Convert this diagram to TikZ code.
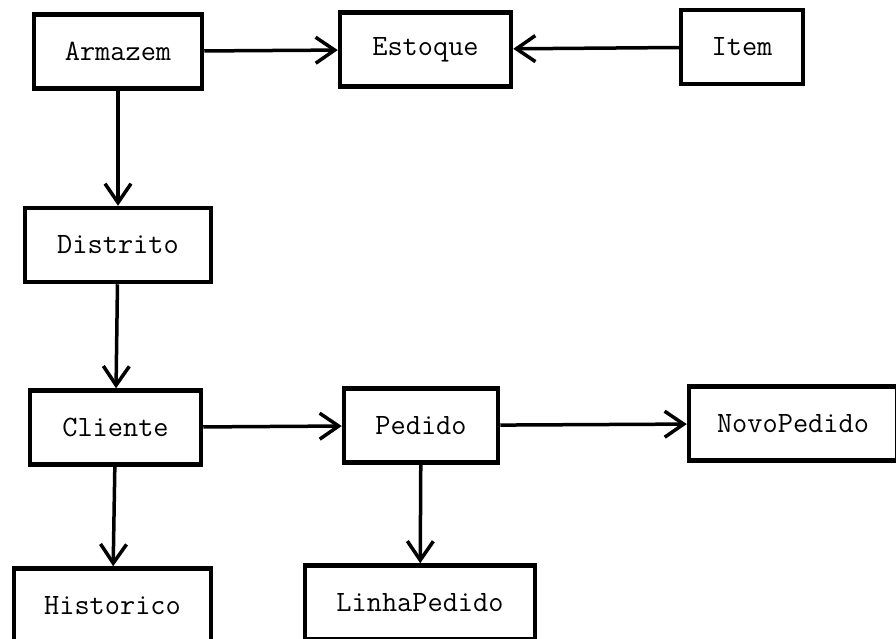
\documentclass[tikz,border=0pt]{standalone}
\usepackage{fontspec}
\usetikzlibrary{arrows.meta}
\begin{document}
\begin{tikzpicture}[x=1pt,y=-1pt,
    tabela/.style={draw, rectangle, line width=4.5pt, inner sep=0pt,
      minimum height=74pt, font=\ttfamily\fontsize{29.5}{32}\selectfont},
    ligacao/.style={line width=3.5pt, -{Straight Barb[length=19pt,width=26pt]}}]
      \clip (0,0) rectangle (896,638);
      \draw
        (118,51.5) node[tabela, minimum width=168pt] (armazem){Armazem}
        (425.5,49.5) node[tabela, minimum width=171pt] (estoque){Estoque}
        (742,47) node[tabela, minimum width=122pt] (item){Item}
        (118,245) node[tabela, minimum width=186pt] (distrito){Distrito}
        (115.5,427.5) node[tabela, minimum width=171pt] (cliente){Cliente}
        (421,425.5) node[tabela, minimum width=154pt] (pedido){Pedido}
        (793,423.5) node[tabela, minimum width=208pt] (novopedido){NovoPedido}
        (112.5,605.5) node[tabela, minimum width=197pt] (historico){Historico}
        (420,602.5) node[tabela, minimum width=230pt] (linhapedido){LinhaPedido};
      \begin{scope}[ligacao]
        \draw (armazem) to (estoque);
        \draw (item) to (estoque);
        \draw (armazem) to (distrito);
        \draw (distrito) to (cliente);
        \draw (cliente) to (pedido);
        \draw (pedido) to (novopedido);
        \draw (cliente) to (historico);
        \draw (pedido) to (linhapedido);
      \end{scope}
    \end{tikzpicture}
\end{document}
